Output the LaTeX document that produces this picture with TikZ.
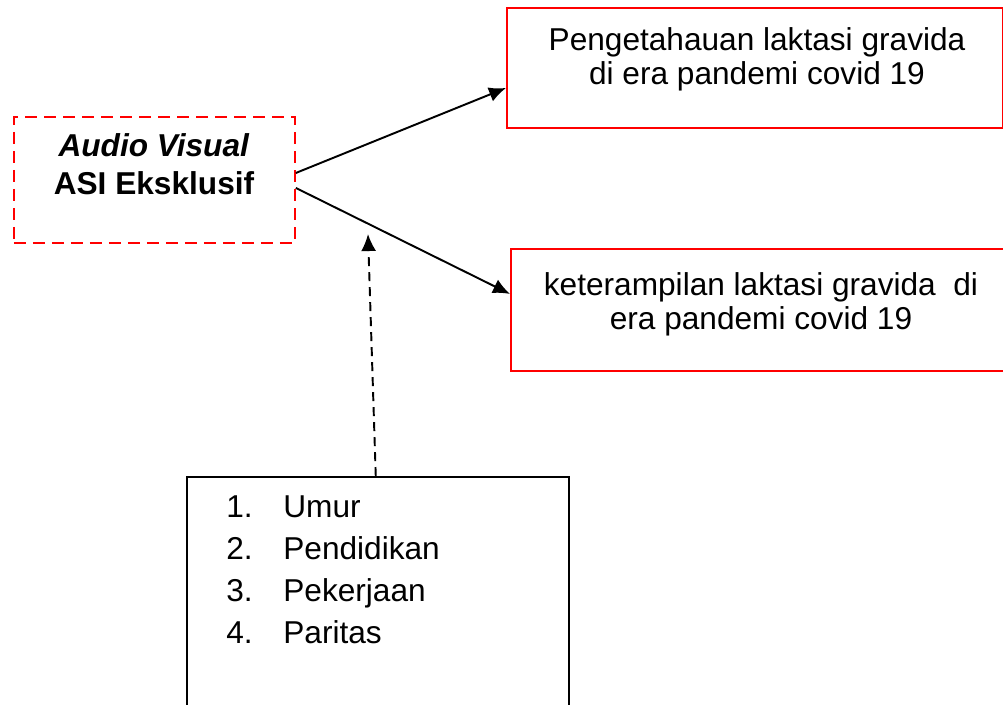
\documentclass[tikz,border=0pt]{standalone}
\usepackage{fontspec}
\setmainfont{Liberation Sans}
\usetikzlibrary{arrows.meta}

\begin{document}
\begin{tikzpicture}[x=0.02cm, y=-0.02cm, >={Latex[length=3.4mm,width=3mm]},
  redbox/.style={draw=red, line width=1.1pt, rectangle, anchor=north west, inner sep=0pt},
  dashbox/.style={redbox, dash pattern=on 0.24cm off 0.14cm},
  listbox/.style={draw=black, line width=0.9pt, rectangle, anchor=north west, inner sep=0pt},
  boxtext/.style={anchor=north, inner sep=0pt, align=center, font=\fontsize{18}{19.4}\selectfont},
  link/.style={->, line width=1.1pt}]

\useasboundingbox (0,0) rectangle (1003,704);

% --- Variabel bebas ---
\node[dashbox, minimum width=5.62cm, minimum height=2.52cm] (media) at (13,116) {};
\node[boxtext, font=\fontsize{18}{22}\selectfont\bfseries] (tMedia) at (154,133)
  {\textit{Audio Visual}\\ASI Eksklusif};

% --- Variabel terikat ---
\node[redbox, minimum width=9.92cm, minimum height=2.4cm] (tahu) at (506,7) {};
\node[boxtext] (tTahu) at (757,27)
  {Pengetahauan laktasi gravida\\di era pandemi covid 19};

\node[redbox, minimum width=9.86cm, minimum height=2.44cm] (terampil) at (510,248) {};
\node[boxtext] (tTerampil) at (761,272)
  {keterampilan laktasi gravida\ \ di\\era pandemi covid 19};

% --- Faktor lain ---
\node[listbox, minimum width=7.64cm, minimum height=5cm] (faktor) at (186,476) {};
\node[anchor=north west, inner sep=0pt, align=left, font=\fontsize{18}{24}\selectfont] (tFaktor) at (226,495)
  {\makebox[1.14cm][l]{1.}Umur\\
   \makebox[1.14cm][l]{2.}Pendidikan\\
   \makebox[1.14cm][l]{3.}Pekerjaan\\
   \makebox[1.14cm][l]{4.}Paritas};

% --- Panah ---
\coordinate (fTip) at (368,234);
\draw[link] ([yshift=0.14cm]media.east) -- ([yshift=-0.4cm]tahu.west);
\draw[link] ([yshift=-0.16cm]media.east) -- ([yshift=0.32cm]terampil.west);
\draw[link, dash pattern=on 0.18cm off 0.12cm] ([xshift=-0.04cm]faktor.north) -- (fTip);

\end{tikzpicture}
\end{document}
